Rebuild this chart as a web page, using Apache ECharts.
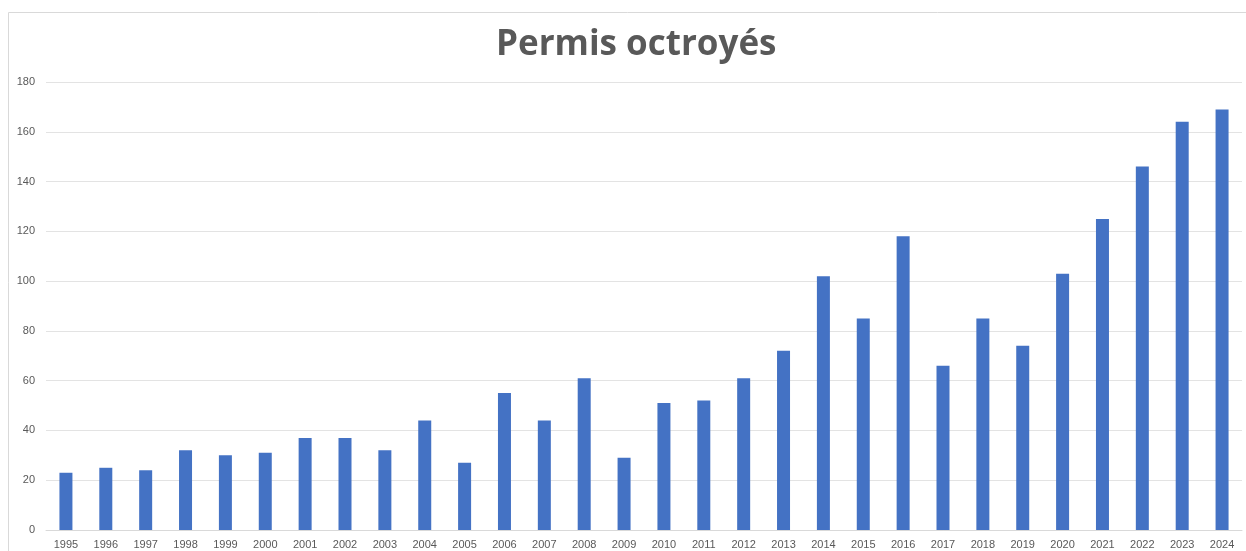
<!DOCTYPE html>
<html>
<head>
<meta charset="utf-8">
<script src="https://cdn.jsdelivr.net/npm/echarts@6/dist/echarts.min.js"></script>
<style>
  html, body { margin: 0; padding: 0; background: #fff; }
  #chart { width: 1246px; height: 551px; }
</style>
</head>
<body>
<div id="chart"></div>
<script>
const years = ['1995', '1996', '1997', '1998', '1999', '2000', '2001', '2002', '2003', '2004',
    '2005', '2006', '2007', '2008', '2009', '2010', '2011', '2012', '2013', '2014',
    '2015', '2016', '2017', '2018', '2019', '2020', '2021', '2022', '2023', '2024'];
const permis = [23, 25, 24, 32, 30, 31, 37, 37, 32, 44,
    27, 55, 44, 61, 29, 51, 52, 61, 72, 102,
    85, 118, 66, 85, 74, 103, 125, 146, 164, 169];

const myChart = echarts.init(document.getElementById('chart'));

const option = {
    animation: false,
    title: {
        text: 'Permis octroyés',
        left: 491,
        top: 23,
        textStyle: {
            fontFamily: 'Open Sans',
            fontWeight: 'bold',
            fontSize: 35,
            color: '#595959'
        }
    },
    graphic: [
        {
            type: 'rect',
            shape: { x: 8.5, y: 12.5, width: 1260, height: 560 },
            style: { fill: 'none', stroke: '#d9d9d9', lineWidth: 1 },
            silent: true
        }
    ],
    grid: {
        left: 46,
        right: 4,
        top: 82,
        bottom: 21,
        containLabel: false
    },
    xAxis: {
        type: 'category',
        data: years,
        axisLine: { lineStyle: { color: '#d9d9d9' } },
        axisTick: { show: false },
        axisLabel: {
            color: '#595959',
            fontSize: 11,
            fontFamily: 'Liberation Sans',
            margin: 9,
            interval: 0
        }
    },
    yAxis: {
        type: 'value',
        min: 0,
        max: 180,
        interval: 20,
        axisLine: { show: false },
        axisTick: { show: false },
        splitLine: { lineStyle: { color: '#e3e3e3' } },
        axisLabel: {
            color: '#595959',
            fontSize: 11,
            fontFamily: 'Liberation Sans',
            margin: 11
        }
    },
    series: [
        {
            name: 'Permis octroyés',
            type: 'bar',
            data: permis,
            barWidth: 13,
            itemStyle: { color: '#4472c4' }
        }
    ]
};

myChart.setOption(option);
</script>
</body>
</html>
